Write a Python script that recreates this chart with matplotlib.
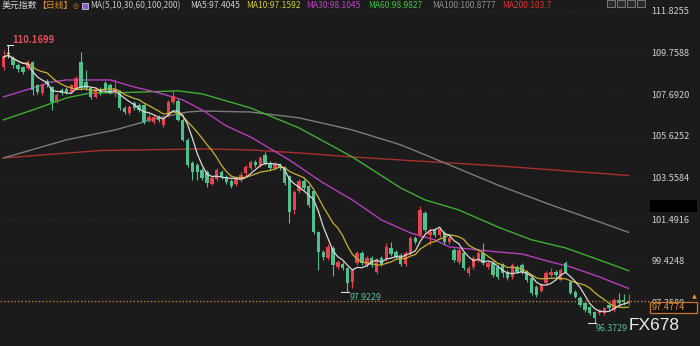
import numpy as np
import matplotlib
matplotlib.use("Agg")
import matplotlib.pyplot as plt
import pandas as pd
from matplotlib.patches import Rectangle

plt.rcParams['font.family'] = ['Noto Sans CJK SC', 'DejaVu Sans']

# ---------------- data ----------------
opens = [109.09, 109.75, 109.53, 109.20, 109.09, 109.04, 109.33, 108.19, 107.80, 108.40,
         108.09, 107.40, 107.95, 108.00, 107.85, 108.00, 109.33, 108.34, 108.04, 107.60,
         108.00, 108.30, 108.20, 107.80, 107.90, 107.06, 106.80, 107.30, 107.20, 107.20,
         106.45, 106.36, 106.60, 106.21, 106.71, 107.35, 107.40, 106.46, 105.47, 104.32,
         104.23, 103.95, 103.85, 103.30, 103.55, 103.85, 103.65, 103.45, 103.30, 103.50,
         103.80, 104.05, 104.35, 104.20, 104.70, 104.30, 104.05, 104.20, 104.10, 103.70,
         102.00, 102.95, 103.45, 103.20, 102.95, 100.90, 99.90, 99.60, 100.10, 99.15,
         99.30, 99.10, 98.40, 99.35, 99.85, 99.25, 99.60, 98.90, 99.60, 99.55,
         100.10, 99.90, 99.75, 99.30, 99.85, 100.60, 100.75, 101.85, 100.75, 101.00,
         100.75, 100.85, 100.40, 100.00, 99.41, 99.86, 98.87, 99.17, 99.51, 99.86,
         99.17, 99.36, 99.17, 99.27, 98.92, 98.67, 99.17, 99.27, 98.92, 98.62,
         98.17, 97.98, 98.37, 98.75, 98.92, 98.52, 99.36, 98.42, 97.93, 97.63,
         97.38, 97.18, 96.93, 96.88, 96.88, 97.28, 97.03, 97.53, 97.53, 97.38]
closes = [109.58, 109.75, 109.19, 108.98, 108.84, 109.33, 107.95, 107.85, 108.19, 108.25,
          107.35, 107.70, 107.80, 107.85, 108.19, 108.54, 108.05, 108.04, 107.60, 108.00,
          107.80, 107.95, 107.80, 108.00, 107.06, 106.85, 107.10, 107.05, 106.95, 106.36,
          106.60, 106.60, 106.45, 106.50, 107.35, 107.65, 106.46, 105.47, 104.23, 103.88,
          103.85, 103.60, 103.33, 103.60, 103.95, 103.65, 103.40, 103.20, 103.55, 103.75,
          104.10, 104.35, 104.20, 104.55, 104.30, 104.05, 104.25, 104.05, 103.35, 101.90,
          102.90, 103.45, 103.10, 102.25, 100.90, 99.90, 99.65, 100.15, 99.25, 99.40,
          99.10, 98.35, 98.99, 99.85, 99.35, 99.60, 99.25, 99.50, 99.30, 100.15,
          99.80, 99.65, 99.30, 99.85, 100.60, 100.40, 101.98, 101.00, 100.90, 100.75,
          101.05, 100.41, 100.60, 99.51, 100.00, 99.12, 99.12, 99.61, 99.86, 99.36,
          99.36, 98.77, 98.67, 98.87, 98.62, 99.27, 98.92, 98.92, 98.52, 97.88,
          97.78, 98.27, 98.87, 98.92, 98.75, 99.00, 98.92, 97.88, 97.68, 97.28,
          97.03, 96.88, 96.64, 97.03, 97.13, 97.13, 97.53, 97.40, 97.45, 97.48]
highs = [109.93, 110.1699, 109.65, 109.30, 109.15, 109.42, 109.38, 108.25, 108.30, 108.50,
         108.15, 107.80, 108.05, 108.10, 108.25, 108.65, 109.83, 108.94, 108.10, 108.10,
         108.10, 108.40, 108.30, 108.50, 107.95, 107.15, 107.20, 107.40, 107.30, 107.25,
         106.75, 106.70, 106.70, 106.60, 107.45, 107.90, 107.50, 106.55, 105.55, 104.40,
         104.30, 104.05, 103.95, 103.70, 104.05, 103.95, 103.75, 103.55, 103.65, 103.85,
         104.20, 104.45, 104.45, 104.65, 104.85, 104.40, 104.35, 104.30, 104.15, 103.75,
         103.00, 103.55, 103.55, 103.25, 103.00, 100.95, 100.00, 100.30, 100.20, 99.50,
         99.40, 99.15, 99.05, 99.95, 99.95, 99.70, 99.70, 99.60, 99.70, 100.35,
         100.40, 100.00, 99.85, 99.95, 100.70, 100.70, 102.20, 101.95, 101.10, 101.10,
         101.15, 100.95, 100.70, 100.10, 100.10, 99.95, 99.20, 99.70, 99.95, 100.36,
         99.45, 99.45, 99.25, 99.35, 99.00, 99.35, 99.25, 99.37, 99.00, 98.70,
         98.25, 98.35, 98.95, 99.10, 99.00, 99.10, 99.46, 98.50, 98.00, 97.70,
         97.45, 97.25, 97.00, 97.10, 97.20, 97.35, 97.60, 97.88, 97.80, 97.80]
lows = [108.94, 109.55, 109.05, 108.85, 108.75, 108.95, 107.70, 107.75, 107.70, 108.10,
        106.95, 107.30, 107.70, 107.75, 107.80, 107.95, 107.95, 107.95, 107.50, 107.55,
        107.70, 107.85, 107.75, 107.60, 106.95, 106.75, 106.70, 106.95, 106.85, 106.25,
        106.35, 106.25, 106.35, 106.10, 106.60, 107.25, 106.40, 105.40, 104.10, 103.48,
        103.50, 103.50, 103.15, 103.25, 103.45, 103.55, 103.30, 103.10, 103.20, 103.40,
        103.70, 103.95, 104.10, 104.10, 104.20, 103.95, 103.95, 103.95, 103.25, 101.35,
        101.80, 102.85, 103.00, 102.15, 100.80, 99.00, 99.50, 99.50, 98.70, 99.05,
        99.00, 97.9229, 98.10, 99.25, 99.25, 99.15, 99.15, 98.80, 99.20, 99.45,
        99.70, 99.55, 99.20, 99.20, 99.75, 100.30, 100.65, 100.90, 100.25, 100.65,
        100.65, 100.30, 100.30, 99.40, 99.30, 99.00, 98.70, 99.05, 99.40, 99.25,
        99.05, 98.65, 98.55, 98.65, 98.50, 98.55, 98.85, 98.80, 98.40, 97.75,
        97.65, 97.90, 98.25, 98.65, 98.65, 98.45, 98.85, 97.80, 97.60, 97.20,
        96.95, 96.80, 96.3729, 96.80, 96.80, 97.05, 96.95, 97.20, 97.30, 97.30]

# long moving averages at these candle indices
ma30_idx = [0, 10, 13, 22, 27, 32, 37, 41, 46, 51, 59, 66, 72, 78, 84, 89, 92, 102, 107, 113, 117, 123, 129]
ma30 = [107.60, 108.34, 108.44, 108.44, 108.09, 107.80, 107.45, 106.95, 106.16, 105.61, 104.47, 103.33,
        102.49, 101.50, 100.85, 100.51, 100.16, 99.91, 99.81, 99.41, 99.17, 98.67, 98.10]
ma60_idx = [0, 6, 13, 18, 23, 30, 36, 41, 51, 61, 72, 82, 87, 94, 102, 109, 116, 123, 129]
ma60 = [106.46, 106.95, 107.55, 107.80, 107.80, 107.85, 107.90, 107.75, 107.05, 106.06, 104.62, 103.08,
        102.49, 101.99, 101.15, 100.51, 100.11, 99.51, 98.98]
ma100_idx = [0, 13, 23, 32, 38, 41, 51, 61, 72, 82, 92, 102, 113, 123, 129]
ma100 = [104.57, 105.47, 105.96, 106.56, 106.85, 106.90, 106.85, 106.56, 105.96, 105.22, 104.23, 103.23,
         102.24, 101.40, 100.88]
ma200_idx = [0, 20, 41, 51, 61, 72, 82, 102, 129]
ma200 = [104.57, 104.94, 105.02, 104.97, 104.82, 104.62, 104.47, 104.18, 103.70]

y_ticks = [111.8255, 109.7588, 107.6920, 105.6252, 103.5584, 101.4916, 99.4248, 97.3580]
last_price = 97.4774
high_mark = (1, 110.1699)
low_marks = [(71, 97.9229, 0.5), (122, 96.3729, 0.2)]

header_cjk = [(2, "美元指数", '#d6d6d6'), (37, "【日线】", '#e8902a')]
header = [
    (90, "MA(5,10,30,60,100,200)", '#c8c8c8'),
    (190, "MA5:97.4045", '#d0d0d0'),
    (246, "MA10:97.1592", '#d2cc2a'),
    (306, "MA30:98.1045", '#c43ccc'),
    (368, "MA60:98.9827", '#3cc43c'),
    (432, "MA100:100.8777", '#8e8e8e'),
    (502, "MA200:103.7", '#e03232'),
]

# ---------------- style ----------------
BG = '#1b1b1b'
UP = '#e6434f'
DOWN = '#4fc08e'
DOJI = '#d8d8d8'
C_MA5 = '#d8d8d8'
C_MA10 = '#c8b232'
C_MA30 = '#b83cbe'
C_MA60 = '#3faf2f'
C_MA100 = '#7c7c7c'
C_MA200 = '#a8302c'

W, H = 700, 346
fig = plt.figure(figsize=(7.0, 3.46), dpi=100)
fig.patch.set_facecolor(BG)
ax = fig.add_axes([0, 0, 1, 1])
ax.set_facecolor(BG)
ax.axis('off')

X0, DX = 3.5, 4.845          # pixel position of first candle, candle spacing
PY0, PPU = 11.7, 20.16       # pixel y of first tick, pixels per unit
ax.set_xlim(-X0 / DX, (W - X0) / DX)
ax.set_ylim(y_ticks[0] - (H - PY0) / PPU, y_ticks[0] + PY0 / PPU)

n = len(closes)
x = np.arange(n)

def fx(px):
    return px / W

def fy(py):
    return 1 - py / H

# faint grid
for v in y_ticks:
    ax.axhline(v, xmin=0, xmax=0.93, color='#2a2a2a', lw=0.6, ls=(0, (1, 2)), zorder=0)

# moving averages
cl = pd.Series(closes)
ma5 = cl.rolling(5, min_periods=1).mean()
ma10 = cl.rolling(10, min_periods=1).mean()
ax.plot(ma200_idx, ma200, color=C_MA200, lw=1.0, zorder=1)
ax.plot(ma100_idx, ma100, color=C_MA100, lw=1.0, zorder=1)
ax.plot(ma60_idx, ma60, color=C_MA60, lw=1.0, zorder=1)
ax.plot(ma30_idx, ma30, color=C_MA30, lw=1.0, zorder=1)

# candles
for i in range(n):
    o, c, h, l = opens[i], closes[i], highs[i], lows[i]
    if abs(c - o) < 0.005:
        col = DOJI
    elif c > o:
        col = UP
    else:
        col = DOWN
    ax.vlines(i, l, h, color=col, lw=0.8, zorder=2)
    hgt = max(abs(c - o), 0.05)
    bot = min(o, c) if abs(c - o) >= 0.05 else (o + c) / 2 - 0.025
    ax.bar(i, hgt, bottom=bot, width=0.7, color=col, lw=0, zorder=3)

ax.plot(x, ma10, color=C_MA10, lw=0.9, zorder=4)
ax.plot(x, ma5, color=C_MA5, lw=0.9, zorder=5)

# current price line
ax.axhline(last_price, xmin=0, xmax=0.93, color='#c07a30', lw=0.9, ls=(0, (1.2, 1.6)), zorder=6)

# high / low markers
hi, hv = high_mark
ax.plot([hi - 0.3, hi + 0.9], [hv, hv], color='#e0e0e0', lw=0.8, zorder=6)
ax.text(hi + 0.9, hv + 0.25, f"{hv:.4f}", color='#e0505c', fontsize=6.8,
        fontweight='bold', ha='left', va='center', zorder=7)
for li, lv, off in low_marks:
    ax.plot([li - 1.4, li + 0.3], [lv, lv], color='#e0e0e0', lw=0.8, zorder=6)
    ax.text(li + off, lv - 0.27, f"{lv:.4f}", color='#4fbf9a', fontsize=6.4,
            ha='left', va='center', zorder=7)

# right axis labels
ytr = ax.get_yaxis_transform()
for v in y_ticks:
    ax.text(0.931, v, f"{v:.4f}", transform=ytr, color='#cfcfcf', fontsize=6.6,
            ha='left', va='center', zorder=7)

# hidden label block
fig.patches.append(Rectangle((fx(650), fy(212)), fx(47), 12 / H, transform=fig.transFigure,
                             facecolor='#000000', edgecolor='none', zorder=8))
# current price box
fig.patches.append(Rectangle((fx(650), fy(312.5)), fx(47), 10.5 / H, transform=fig.transFigure,
                             facecolor='#111111', edgecolor='#c87828', lw=0.9, zorder=8))
fig.text(fx(652), fy(307.3), f"{last_price:.4f}", color='#e8923a', fontsize=6.6,
         ha='left', va='center', zorder=9)
fig.text(fx(694), fy(297), "▲", color='#e8923a', fontsize=4.5, ha='center', va='center',
         family=['DejaVu Sans'])

# watermark
fig.text(fx(629), fy(326), "FX678", color='#ececec', fontsize=12.5, ha='left', va='center',
         family=['Liberation Sans'])

# header
for px, s, col in header_cjk:
    fig.text(fx(px), fy(5.5), s, color=col, fontsize=6.4, ha='left', va='center')
for px, s, col in header:
    fig.text(fx(px), fy(5.5), s, color=col, fontsize=6.1, ha='left', va='center')
fig.text(fx(73), fy(5.8), "◎", color='#c87830', fontsize=5.0, ha='left', va='center',
         family=['DejaVu Sans'])
fig.patches.append(Rectangle((fx(82), fy(9)), fx(6), 6 / H, transform=fig.transFigure,
                             facecolor='#8a5ad0', edgecolor='#e0e0e0', lw=0.5))
# toolbar icons
for px in [607, 617, 627, 637]:
    fig.patches.append(Rectangle((fx(px), fy(7)), fx(8), 6.5 / H, transform=fig.transFigure,
                                 facecolor='#2a2a2a', edgecolor='#9a9a9a', lw=0.5))

fig.savefig("out.png", dpi=100, facecolor=BG)
